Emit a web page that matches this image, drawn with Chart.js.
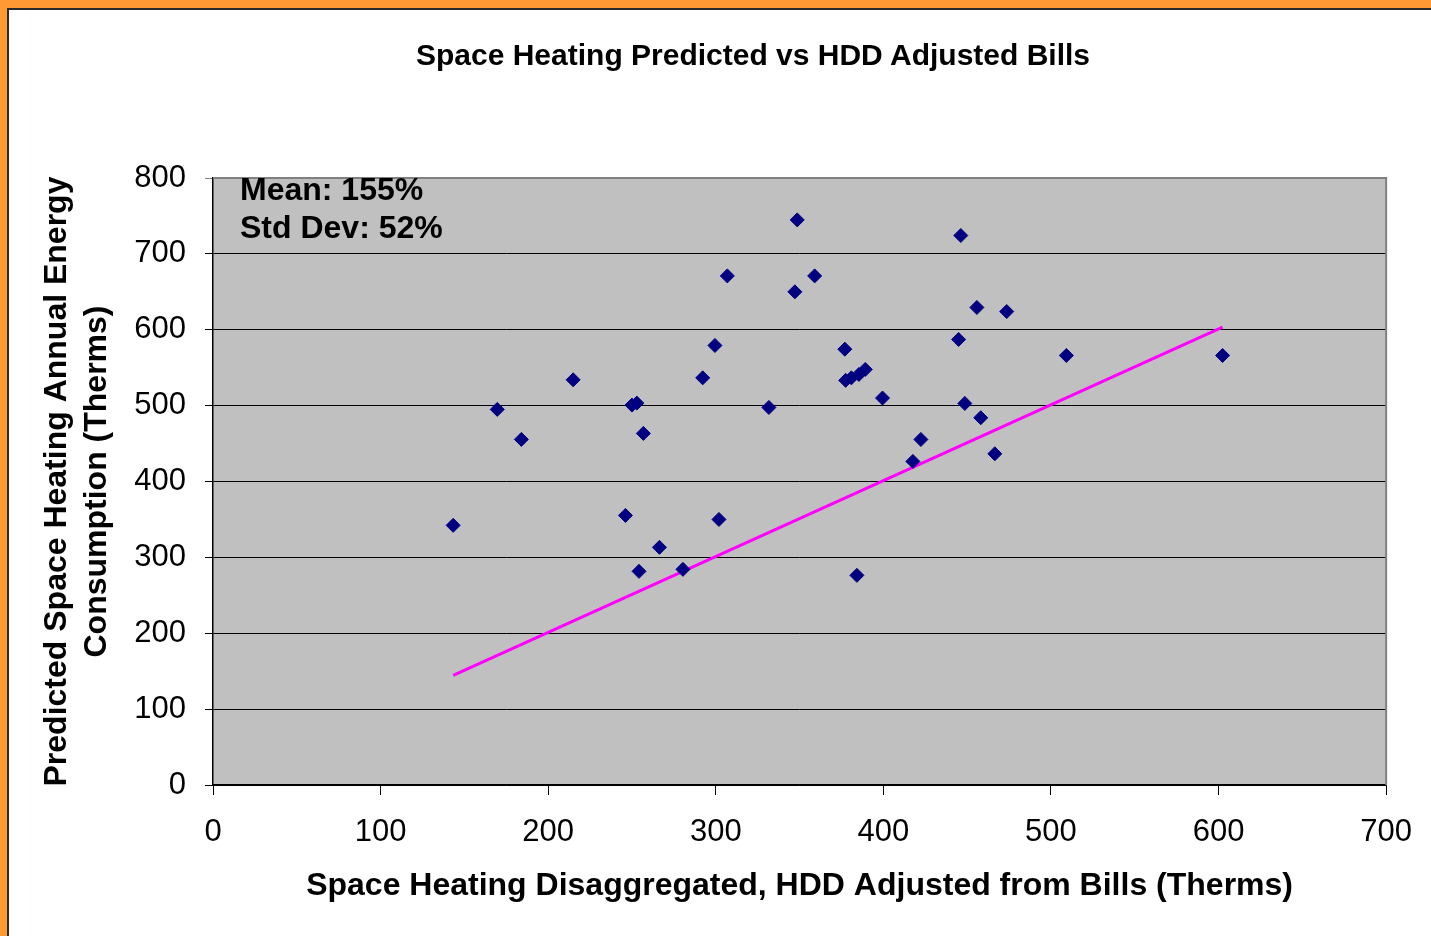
<!DOCTYPE html>
<html>
<head>
<meta charset="utf-8">
<script src="https://cdn.jsdelivr.net/npm/chart.js@4.4.0/dist/chart.umd.min.js"></script>
<style>
  html, body { margin: 0; padding: 0; background: #ffffff; }
  body { width: 1431px; height: 936px; position: relative; overflow: hidden; font-family: "Liberation Sans", Arial, sans-serif; }
  #frame { position: absolute; left: 0; top: 0; width: 1431px; height: 936px; box-sizing: border-box;
           border-left: 7px solid #FF9933; border-top: 8px solid #FF9933; z-index: 0; }
  #frameInner { position: absolute; left: 7px; top: 8px; right: 0; bottom: 0; box-sizing: border-box;
           border-left: 2px solid #2a2a2a; border-top: 2px solid #2a2a2a; z-index: 1; }
  #chart { position: absolute; left: 0; top: 0; z-index: 2; }
  #title { position: absolute; left: 0; width: 1506px; top: 37px; line-height: 36px; text-align: center;
           font-weight: bold; font-size: 30px; color: #000; z-index: 3; }
  #stats { position: absolute; left: 240px; top: 170px; line-height: 38px; font-weight: bold; font-size: 32px; color: #000; z-index: 3; }
</style>
</head>
<body>
<div id="frame"></div>
<div id="frameInner"></div>
<canvas id="chart" width="1431" height="936"></canvas>
<div id="title">Space Heating Predicted vs HDD Adjusted Bills</div>
<div id="stats"><div>Mean: 155%</div><div>Std Dev: 52%</div></div>
<script>
// ---- data ----
const billsX = [143.3, 169.6, 184.0, 214.9, 246.1, 250.0, 252.9, 256.8, 254.2, 266.4,
                280.4, 292.2, 299.5, 301.9, 306.9, 331.7, 347.2, 348.6, 359.0, 377.0,
                377.5, 380.9, 385.4, 389.2, 384.2, 399.5, 417.6, 422.4, 444.9, 446.2,
                448.6, 455.8, 458.1, 466.5, 473.6, 509.2, 602.4];
const predictedY = [342.2, 495.0, 455.5, 534.0, 355.3, 500.7, 503.3, 463.4, 281.6, 313.2,
                    284.2, 536.6, 579.3, 350.0, 671.0, 497.6, 650.0, 744.8, 671.0, 574.4,
                    533.3, 536.6, 541.1, 547.7, 276.3, 510.0, 426.5, 455.4, 587.2, 724.2,
                    502.9, 629.4, 484.0, 436.5, 624.0, 566.1, 566.1];
const refLineX = [143.3, 602.4];
const refLineY = [144.5, 603.4];
const xTicks = [0, 100, 200, 300, 400, 500, 600, 700];
const yTicks = [0, 100, 200, 300, 400, 500, 600, 700, 800];

const FONT = "'Liberation Sans', Arial, sans-serif";

const plotBg = {
  id: 'plotBg',
  beforeDraw(chart) {
    const {ctx, chartArea: a} = chart;
    ctx.save();
    ctx.fillStyle = '#C0C0C0';
    ctx.fillRect(a.left, a.top, a.right - a.left, a.bottom - a.top);
    ctx.restore();
  },
  afterDatasetsDraw(chart) {
    const {ctx, chartArea: a} = chart;
    ctx.save();
    ctx.strokeStyle = '#808080';
    ctx.lineWidth = 2;
    ctx.beginPath();
    ctx.moveTo(a.left, a.top);
    ctx.lineTo(a.right, a.top);
    ctx.lineTo(a.right, a.bottom);
    ctx.stroke();
    ctx.restore();
  }
};

new Chart(document.getElementById('chart'), {
  type: 'scatter',
  data: {
    datasets: [
      {
        label: 'Bills vs Predicted',
        data: billsX.map((x, i) => ({x: x, y: predictedY[i]})),
        pointStyle: 'rectRot',
        pointRadius: 7,
        pointHoverRadius: 7,
        backgroundColor: '#000080',
        borderColor: '#000080',
        borderWidth: 1,
        order: 1
      },
      {
        label: 'Reference',
        type: 'line',
        data: refLineX.map((x, i) => ({x: x, y: refLineY[i]})),
        borderColor: '#FF00FF',
        borderWidth: 3,
        pointRadius: 0,
        fill: false,
        showLine: true,
        order: 2
      }
    ]
  },
  options: {
    responsive: false,
    animation: false,
    devicePixelRatio: 1,
    layout: { padding: { left: 10, right: 42, top: 178, bottom: 9 } },
    plugins: {
      legend: { display: false },
      title: { display: false },
      tooltip: { enabled: false }
    },
    scales: {
      x: {
        type: 'linear',
        min: 0, max: 700,
        afterBuildTicks: (s) => { s.ticks = xTicks.map(v => ({value: v})); },
        afterFit: (s) => { s.height = 142; },
        grid: { drawOnChartArea: false, drawTicks: true, tickLength: 10, color: '#000', lineWidth: 1 },
        border: { display: true, color: '#000', width: 1.5 },
        ticks: { color: '#000', padding: 19, font: { family: FONT, size: 31 }, maxRotation: 0 },
        title: {
          display: true,
          text: 'Space Heating Disaggregated, HDD Adjusted from Bills (Therms)',
          color: '#000',
          font: { family: FONT, size: 32, weight: 'bold', lineHeight: 1.2 },
          padding: { top: 0, bottom: 21.4 }
        }
      },
      y: {
        type: 'linear',
        min: 0, max: 800,
        afterBuildTicks: (s) => { s.ticks = yTicks.map(v => ({value: v})); },
        afterFit: (s) => { s.width = 203; },
        grid: {
          drawOnChartArea: true, drawTicks: true, tickLength: 8,
          color: (c) => (c.tick && c.tick.value === 800) ? '#808080' : '#000',
          lineWidth: 1
        },
        border: { display: true, color: '#000', width: 1.5 },
        ticks: { color: '#000', padding: 19, font: { family: FONT, size: 31 } },
        title: {
          display: true,
          text: ['Predicted Space Heating Annual Energy', 'Consumption (Therms)'],
          color: '#000',
          font: { family: FONT, size: 32, weight: 'bold', lineHeight: 1.25 },
          padding: { top: 27, bottom: 0 }
        }
      }
    }
  },
  plugins: [plotBg]
});
</script>
</body>
</html>
